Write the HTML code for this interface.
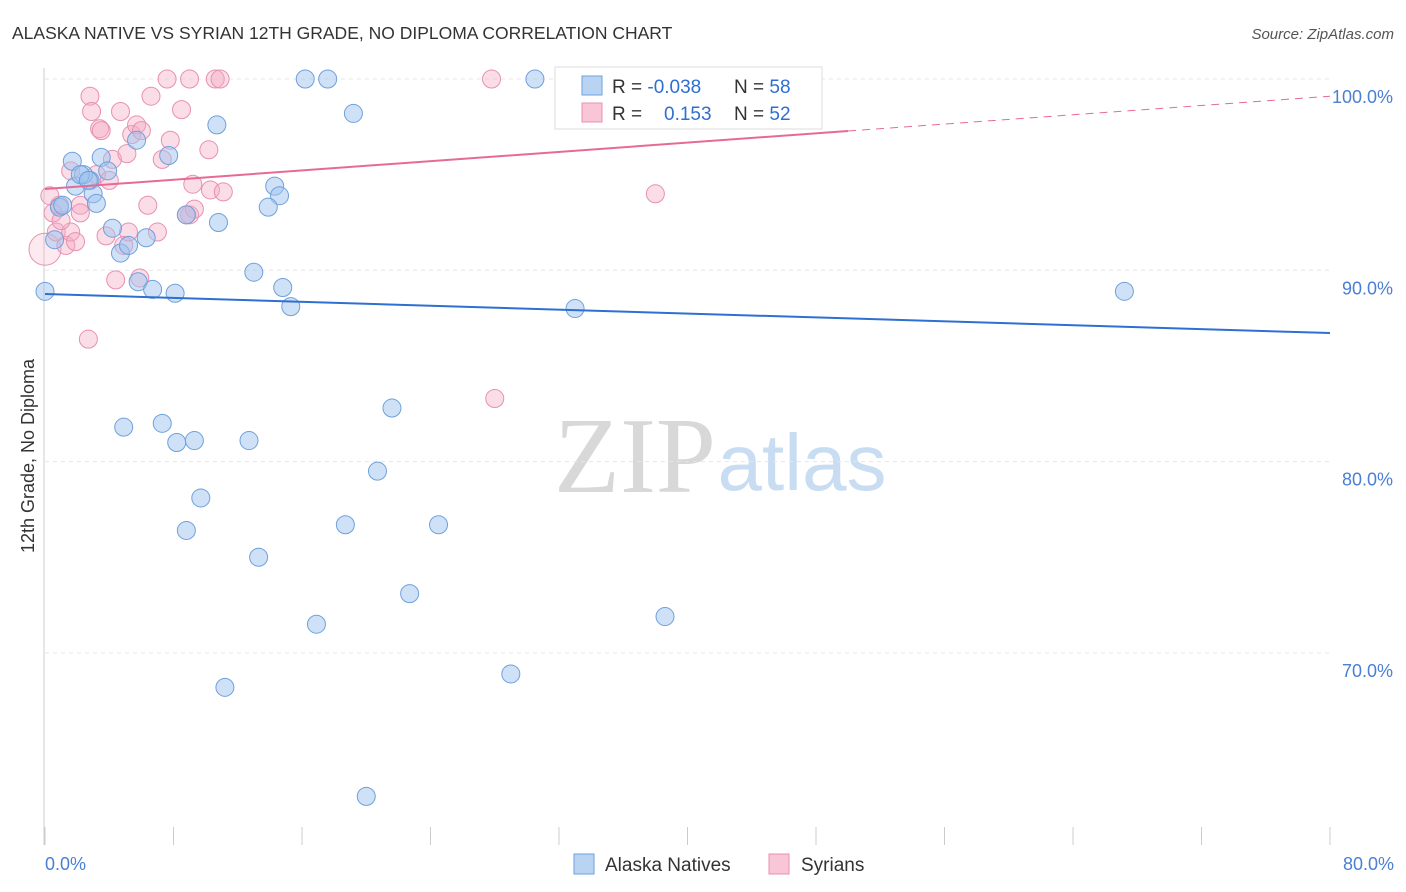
<!DOCTYPE html>
<html><head><meta charset="utf-8"><style>
body{margin:0;background:#fff;font-family:"Liberation Sans",sans-serif}
svg{display:block}
</style></head><body>
<svg id="chart" width="1406" height="892">
<text x="12" y="39" font-size="17.5" fill="#333">ALASKA NATIVE VS SYRIAN 12TH GRADE, NO DIPLOMA CORRELATION CHART</text>
<text x="1394" y="39" font-size="15" fill="#555" font-style="italic" text-anchor="end">Source: ZipAtlas.com</text>
<g>
<text x="635" y="492" font-size="108" fill="#d8d8d8" font-family="Liberation Serif,serif" text-anchor="middle">ZIP</text>
<text x="802" y="490" font-size="80" fill="#c8dcf2" text-anchor="middle">atlas</text>
</g>
<g id="grid"></g>
<g id="axes"></g>
<g id="marks"></g>
<g id="lines"></g>
<text transform="translate(34,456) rotate(-90)" font-size="18" fill="#333" text-anchor="middle">12th Grade, No Diploma</text>
<text x="45" y="870" font-size="18" fill="#4a7fd4">0.0%</text>
<text x="1394" y="870" font-size="18" fill="#4a7fd4" text-anchor="end">80.0%</text>
<g>
<rect x="555" y="67" width="267" height="62" fill="#fff" stroke="#ddd"/>
<rect x="582" y="76" width="20" height="19" fill="#b9d3f3" stroke="#6fa0dc"/>
<rect x="582" y="103" width="20" height="19" fill="#f8c6d6" stroke="#e890b0"/>
<text x="612" y="93" font-size="19" fill="#333">R = <tspan fill="#2f6fd0">-0.038</tspan></text>
<text x="734" y="93" font-size="19" fill="#333">N = <tspan fill="#2f6fd0">58</tspan></text>
<text x="612" y="120" font-size="19" fill="#333">R = <tspan fill="#2f6fd0" x="664">0.153</tspan></text>
<text x="734" y="120" font-size="19" fill="#333">N = <tspan fill="#2f6fd0">52</tspan></text>
</g>
<g>
<rect x="574" y="854" width="20" height="20" fill="#b9d3f3" stroke="#6fa0dc"/>
<text x="605" y="871" font-size="19" fill="#333">Alaska Natives</text>
<rect x="769" y="854" width="20" height="20" fill="#f8c6d6" stroke="#e890b0"/>
<text x="801" y="871" font-size="19" fill="#333">Syrians</text>
</g>
</svg>
<script>
const yTicks=[100,90,80,70];
const yTickLabels=["100.0%","90.0%","80.0%","70.0%"];
const xTicks=[0,8,16,24,32,40,48,56,64,72,80];
const blueX=[0.0,1.7,3.5,1.9,2.8,2.4,3.0,3.2,3.9,0.9,0.6,4.2,4.7,5.2,6.3,5.8,6.7,8.1,5.7,7.7,10.7,10.8,8.8,14.3,14.6,13.9,13.0,14.8,15.3,16.2,17.6,19.2,30.5,41.5,44.8,33.0,67.2,4.9,7.3,8.2,9.3,12.7,21.6,20.7,9.7,8.8,18.7,24.5,13.3,22.7,16.9,38.6,11.2,29.0,20.0,1.1,2.2,2.7];
const blueY=[88.9,95.7,95.9,94.4,94.7,95.0,94.0,93.5,95.2,93.3,91.6,92.2,90.9,91.3,91.7,89.4,89.0,88.8,96.8,96.0,97.6,92.5,92.9,94.4,93.9,93.3,89.9,89.1,88.1,100,100,98.2,100,100,100,88.0,88.9,81.8,82.0,81.0,81.1,81.1,82.8,79.5,78.1,76.4,76.7,76.7,75.0,73.1,71.5,71.9,68.2,68.9,62.5,93.4,95.0,94.7];
const pinkX=[0.0,0.5,0.9,0.7,1.3,1.6,1.9,1.6,2.2,2.2,2.7,2.8,2.9,3.4,3.5,3.2,4.0,3.8,4.2,4.4,4.7,4.9,5.2,5.1,5.4,5.7,6.0,5.9,6.6,6.4,7.0,7.3,7.6,7.8,8.5,9.0,9.0,9.2,9.3,10.2,10.3,10.6,10.9,11.1,27.8,28.0,38.0,47.1,44.5,8.8,0.3,1.0];
const pinkY=[91.1,93.0,93.4,92.0,91.3,92.0,91.5,95.2,93.4,93.0,86.4,99.1,98.3,97.4,97.3,95.0,94.7,91.8,95.8,89.5,98.3,91.3,92.0,96.1,97.1,97.6,97.3,89.6,99.1,93.4,92.0,95.8,100,96.8,98.4,100,92.9,94.5,93.2,96.3,94.2,100,100,94.1,100,83.3,94.0,100,100,92.9,93.9,92.6];
const blueTrend=[88.76,86.72];
const pinkTrend=[94.25,99.1];
const X0=45,X1=1330,Y100=79,PER10=191.3;
const sx=v=>X0+(v/80)*(X1-X0);
const sy=v=>Y100+(100-v)/10*PER10;
const NS="http://www.w3.org/2000/svg";
function mk(t,a,p){const e=document.createElementNS(NS,t);for(const k in a)e.setAttribute(k,a[k]);p.appendChild(e);return e;}
const grid=document.getElementById('grid'),axes=document.getElementById('axes'),marks=document.getElementById('marks'),lines=document.getElementById('lines');
yTicks.forEach((t,i)=>{
 const l=mk('line',{x1:X0,x2:X1,y1:sy(t),y2:sy(t),stroke:'#e6e6e6','stroke-dasharray':'4,4'},grid);
 
 
 const tx=mk('text',{x:1393,y:sy(t)+24,'font-size':18,fill:'#4a7fd4','text-anchor':'end'},grid);
 tx.textContent=yTickLabels[i];
 
 
});
const ya=mk('line',{x1:44,x2:44,y1:68,y2:845,stroke:'#ccc'},axes);


xTicks.forEach(t=>{
 const l=mk('line',{x1:sx(t),x2:sx(t),y1:827,y2:845,stroke:'#ccc'},axes);
 
 
});
pinkX.forEach((x,i)=>{
 const c=mk('circle',{cx:sx(x),cy:sy(pinkY[i]),r:i===0?16:9,fill:i===0?'rgba(245,170,195,0.25)':'rgba(245,170,195,0.4)',stroke:'#e890b0','stroke-width':1},marks);
 
 
});
blueX.forEach((x,i)=>{
 const c=mk('circle',{cx:sx(x),cy:sy(blueY[i]),r:9,fill:'rgba(160,196,240,0.5)',stroke:'#6fa0dc','stroke-width':1},marks);
 
 
});
const bl=mk('line',{x1:sx(0),x2:sx(80),y1:sy(blueTrend[0]),y2:sy(blueTrend[1]),stroke:'#2f6fd0','stroke-width':2},lines);


const pm=pinkTrend[0]+(pinkTrend[1]-pinkTrend[0])*(50/80);
const pl=mk('line',{x1:sx(0),x2:sx(50),y1:sy(pinkTrend[0]),y2:sy(pm),stroke:'#e66a96','stroke-width':2},lines);


const pd=mk('line',{x1:sx(50),x2:sx(80),y1:sy(pm),y2:sy(pinkTrend[1]),stroke:'#e66a96','stroke-width':1,'stroke-dasharray':'8,6'},lines);


</script>
</body></html>
